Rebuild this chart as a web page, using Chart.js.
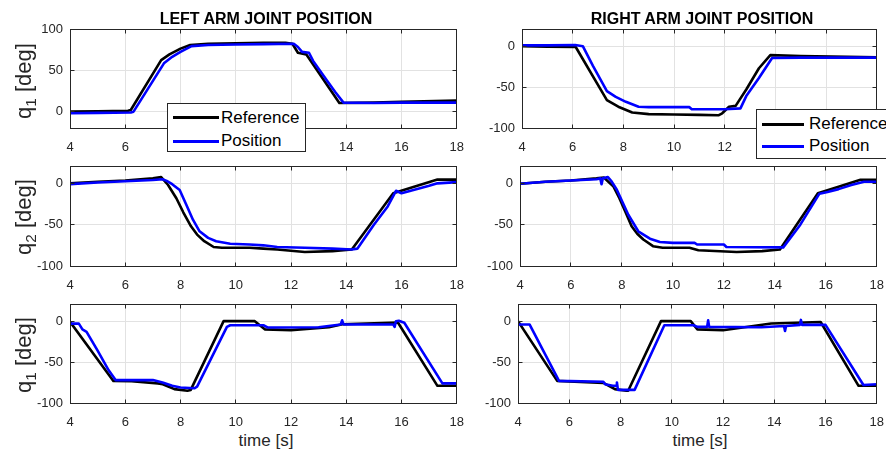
<!DOCTYPE html>
<html>
<head>
<meta charset="utf-8">
<script src="https://cdn.jsdelivr.net/npm/chart.js@4.4.1/dist/chart.umd.min.js"></script>
<style>
html,body{margin:0;padding:0;background:#fff;}
body{width:886px;height:450px;overflow:hidden;position:relative;font-family:"Liberation Sans",Arial,Helvetica,sans-serif;color:#262626;}
.panel{position:absolute;}
.panel canvas{display:block;}
.title{position:absolute;font-weight:bold;font-size:16px;color:#000;white-space:nowrap;transform:translate(-50%,-50%);z-index:5;}
.ylab{position:absolute;font-size:22px;white-space:nowrap;transform:translate(-50%,-50%) rotate(-90deg);z-index:5;line-height:1;}
.ylab sub{font-size:0.7em;vertical-align:-0.3em;line-height:0;}
.xlab{position:absolute;font-size:17px;white-space:nowrap;transform:translate(-50%,-50%);z-index:5;}
.legend{position:absolute;background:#fff;border:1px solid #262626;box-sizing:border-box;z-index:10;}
.legend .swatch{position:absolute;height:3px;}
.legend .txt{position:absolute;font-size:17px;white-space:nowrap;color:#000;transform:translateY(-50%);}
</style>
</head>
<body>
<div class="title" style="left:266px;top:19px;">LEFT ARM JOINT POSITION</div>
<div class="title" style="left:702px;top:19px;">RIGHT ARM JOINT POSITION</div>
<div class="ylab" style="left:24px;top:81px;">q<sub>1</sub> [deg]</div>
<div class="ylab" style="left:24px;top:217px;">q<sub>2</sub> [deg]</div>
<div class="ylab" style="left:24px;top:355px;">q<sub>1</sub> [deg]</div>
<div class="xlab" style="left:266px;top:441px;">time [s]</div>
<div class="xlab" style="left:700px;top:441px;">time [s]</div>

<div class="legend" id="legL" style="left:167px;top:103px;width:139px;height:49px;"></div>
<div class="legend" id="legR" style="left:756px;top:109px;width:139px;height:50px;"></div>

<script>
// ---------- shared tick labels ----------
const xTicks = [4, 6, 8, 10, 12, 14, 16, 18];
const yTicksTopLeft = [0, 50, 100];
const yTicksStd = [-100, -50, 0];
const seriesNames = ['Reference', 'Position'];

// ---------- LEFT ARM q1 ----------
const lq1RefT = [4, 5, 6.1, 6.2, 7.3, 7.6, 8.0, 8.35, 9, 10, 11, 11.8, 12.05, 12.25, 12.55, 13.75, 15, 16, 18];
const lq1RefV = [0, 0.5, 1, 2, 63, 70, 77, 81.5, 83, 83.5, 84, 84, 83, 72, 70, 10.5, 11, 12, 13.5];
const lq1PosT = [4, 5, 6.2, 6.3, 7.4, 7.7, 8.0, 8.4, 9, 10, 11, 12.1, 12.25, 12.4, 12.65, 12.8, 13.3, 13.6, 13.9, 15, 16, 18];
const lq1PosV = [-2, -1.5, -1, 0, 59, 67, 73, 80, 81.5, 82, 82.5, 83, 79, 73, 72, 62, 38, 24, 11, 10.5, 11, 11];

// ---------- RIGHT ARM q1 ----------
const rq1RefT = [4, 5, 6.12, 7.35, 7.8, 8.35, 9, 10, 11, 11.75, 11.9, 12.17, 12.43, 12.85, 13.35, 13.8, 15, 18];
const rq1RefV = [0, -0.5, -1, -66, -74, -81, -83, -83.5, -84, -84.5, -82, -74, -73, -53, -27, -11, -12, -13.5];
const rq1PosT = [4, 5, 6.1, 6.4, 6.8, 7.35, 7.7, 8.1, 8.6, 9, 10, 10.6, 10.7, 12, 12.62, 12.85, 13.35, 13.87, 15, 18];
const rq1PosV = [1, 1, 1.5, 0, -24, -55, -62, -68, -74, -74.5, -74.5, -74.5, -77, -77, -76, -61, -39, -14.5, -14, -14];

// ---------- LEFT ARM q2 ----------
const lq2RefT = [4, 5, 6, 7, 7.3, 7.55, 7.85, 8.1, 8.38, 8.6, 8.86, 9.2, 9.5, 10.5, 11, 11.5, 12.5, 13.5, 14.2, 15.7, 17.3, 18];
const lq2RefV = [0, 2, 3.5, 6, 7.5, -2, -18, -35, -52, -62, -70, -77, -78, -78, -79, -80, -83, -82, -80, -12, 4.5, 4.5];
const lq2PosT = [4, 5, 6, 7, 7.35, 7.5, 7.7, 7.97, 8.21, 8.45, 8.69, 9.0, 9.29, 9.8, 10.5, 11, 11.5, 12.5, 13.5, 14.2, 14.4, 15.0, 15.5, 15.8, 16.0, 17.0, 17.3, 18];
const lq2PosV = [-1, 1, 2.5, 4, 5, 3, -1, -8, -26, -44, -58, -66, -70, -73, -74, -75, -77, -78, -79, -80, -79, -50, -28, -9, -12, -3, 0, 1.5];

// ---------- RIGHT ARM q2 ----------
const rq2RefT = [4, 5, 6, 7, 7.29, 7.67, 7.9, 8.13, 8.38, 8.6, 8.84, 9.22, 9.6, 10.65, 11, 12.5, 13.5, 14.2, 15.69, 16.5, 17.36, 18];
const rq2RefV = [-0.5, 2, 3.5, 6, 7, -4, -18, -34, -52, -61, -68, -76, -78, -78, -81, -83, -82, -80, -12, -4, 4.3, 4.3];
const rq2PosT = [4, 5, 6, 7, 7.15, 7.2, 7.25, 7.45, 7.6, 7.8, 8.25, 8.64, 9.1, 9.49, 10.0, 10.85, 10.95, 12.0, 12.1, 14.33, 15.0, 15.75, 16.07, 16.5, 17.0, 17.5, 18];
const rq2PosV = [-0.5, 2, 3.5, 5, 6, -1, 6, 7.5, 2, -7.7, -38, -58, -67, -71, -72, -72, -74, -74, -77, -77.5, -50, -12.5, -10.5, -7, -2, 2, 2];

// ---------- LEFT ARM q1 (bottom) ----------
const lq3RefT = [4, 5.57, 6.23, 7.18, 7.36, 7.78, 8.25, 8.37, 9.56, 10.69, 11.05, 12, 13.37, 13.86, 15.87, 17.3, 18];
const lq3RefV = [-0.8, -73, -73.5, -76, -77, -83, -85, -84, 0, 0, -10, -11, -7.5, -3.7, -1.6, -79, -79];
const lq3PosT = [4, 4.32, 4.45, 4.6, 5.0, 5.4, 5.65, 7.0, 7.35, 7.7, 8.0, 8.5, 8.6, 9.68, 9.8, 11.0, 11.15, 13.0, 13.8, 13.85, 13.9, 14.1, 15.7, 15.75, 15.8, 15.9, 16.1, 17.48, 18];
const lq3PosV = [-3, -3, -10, -13, -36, -60, -72, -72, -75, -79, -81, -82, -80, -7, -5, -5, -7.7, -7.5, -4, 1, -4, -4, -4, -7, 0, 0.5, -2, -76, -76];

// ---------- RIGHT ARM q1 (bottom) ----------
const rq3RefT = [4, 5.53, 7.33, 7.78, 8.23, 8.3, 9.58, 10.74, 11.0, 12, 13.88, 15.81, 17.29, 18];
const rq3RefV = [0, -73, -75.5, -83, -85, -85, 0, 0, -10, -11, -2.8, -1, -79, -79];
const rq3PosT = [4, 4.45, 5.6, 7.33, 7.4, 7.7, 7.85, 7.86, 7.9, 8.55, 9.71, 10.85, 11.0, 11.38, 11.42, 11.46, 13.5, 14.38, 14.42, 14.46, 15.0, 15.04, 15.08, 16.0, 17.48, 18];
const rq3PosV = [-4, -4, -73, -74, -77, -79, -79, -75, -84, -84, -5, -5, -7, -7, 1, -7, -7.5, -6, -12, -6, -4.5, 1.5, -4.5, -4.5, -78, -77];

// ---------- styling / layout ----------
const FONT = '"Liberation Sans", Arial, Helvetica, sans-serif';
const AX = '#262626';
const GRID = '#e2e2e2';
const REF_COLOR = '#000000';
const POS_COLOR = '#0000ff';
const PADL = 66, PADT = 14, PADR = 14, PADB = 40;

const panels = [
  { rect: [70, 29, 462, 128], y: [-20, 100], yt: yTicksTopLeft, ref: [lq1RefT, lq1RefV], pos: [lq1PosT, lq1PosV] },
  { rect: [522, 29, 882, 128], y: [-100, 20], yt: yTicksStd, ref: [rq1RefT, rq1RefV], pos: [rq1PosT, rq1PosV] },
  { rect: [70, 166, 462, 266], y: [-100, 20], yt: yTicksStd, ref: [lq2RefT, lq2RefV], pos: [lq2PosT, lq2PosV] },
  { rect: [520, 166, 882, 266], y: [-100, 20], yt: yTicksStd, ref: [rq2RefT, rq2RefV], pos: [rq2PosT, rq2PosV] },
  { rect: [70, 304, 462, 403], y: [-100, 20], yt: yTicksStd, ref: [lq3RefT, lq3RefV], pos: [lq3PosT, lq3PosV] },
  { rect: [518, 304, 882, 403], y: [-100, 20], yt: yTicksStd, ref: [rq3RefT, rq3RefV], pos: [rq3PosT, rq3PosV] }
];

function toXY(pair) { return pair[0].map((t, i) => ({ x: t, y: pair[1][i] })); }
function al(p) { return Math.round(p - 0.5) + 0.5; }

const boxPlugin = {
  id: 'matlabBox',
  afterDraw(chart) {
    const { ctx, chartArea } = chart;
    const l = al(chartArea.left), r = al(chartArea.right), t = al(chartArea.top), b = al(chartArea.bottom);
    ctx.save();
    ctx.strokeStyle = AX;
    ctx.lineWidth = 1;
    ctx.strokeRect(l, t, r - l, b - t);
    const TL = 4;
    ctx.beginPath();
    chart.scales.x.ticks.forEach(tk => {
      const px = al(chart.scales.x.getPixelForValue(tk.value));
      ctx.moveTo(px, b); ctx.lineTo(px, b - TL);
      ctx.moveTo(px, t); ctx.lineTo(px, t + TL);
    });
    chart.scales.y.ticks.forEach(tk => {
      const py = al(chart.scales.y.getPixelForValue(tk.value));
      ctx.moveTo(l, py); ctx.lineTo(l + TL, py);
      ctx.moveTo(r, py); ctx.lineTo(r - TL, py);
    });
    ctx.stroke();
    ctx.restore();
  }
};

panels.forEach((p, idx) => {
  const [x0, y0, x1, y1] = p.rect;
  const div = document.createElement('div');
  div.className = 'panel';
  const w = (x1 - x0) + PADL + PADR, h = (y1 - y0) + PADT + PADB;
  div.style.left = (x0 - PADL) + 'px';
  div.style.top = (y0 - PADT) + 'px';
  div.style.width = w + 'px';
  div.style.height = h + 'px';
  div.style.zIndex = 1 + idx;
  const cv = document.createElement('canvas');
  cv.width = w; cv.height = h;
  cv.style.width = w + 'px'; cv.style.height = h + 'px';
  div.appendChild(cv);
  document.body.appendChild(div);

  const lineStyle = { borderWidth: 2.6, pointRadius: 0, tension: 0, fill: false, clip: 0, borderJoinStyle: 'round', borderCapStyle: 'round' };
  new Chart(cv.getContext('2d'), {
    type: 'line',
    data: {
      datasets: [
        Object.assign({ label: seriesNames[1], data: toXY(p.pos), borderColor: POS_COLOR, order: 0 }, lineStyle),
        Object.assign({ label: seriesNames[0], data: toXY(p.ref), borderColor: REF_COLOR, order: 1 }, lineStyle)
      ]
    },
    options: {
      responsive: false,
      maintainAspectRatio: false,
      animation: false,
      events: [],
      layout: { padding: { left: 0, top: PADT, right: PADR, bottom: 0 } },
      plugins: { legend: { display: false }, tooltip: { enabled: false }, title: { display: false } },
      scales: {
        x: {
          type: 'linear', min: 4, max: 18,
          afterBuildTicks: s => { s.ticks = xTicks.map(v => ({ value: v })); },
          afterFit: s => { s.height = PADB; },
          grid: { color: GRID, lineWidth: 1, drawTicks: false },
          border: { display: false },
          ticks: { color: AX, font: { family: FONT, size: 13 }, padding: 12, maxRotation: 0, autoSkip: false }
        },
        y: {
          type: 'linear', min: p.y[0], max: p.y[1],
          afterBuildTicks: s => { s.ticks = p.yt.map(v => ({ value: v })); },
          afterFit: s => { s.width = PADL; },
          grid: { color: GRID, lineWidth: 1, drawTicks: false },
          border: { display: false },
          ticks: { color: AX, font: { family: FONT, size: 13 }, padding: 7, autoSkip: false }
        }
      }
    },
    plugins: [boxPlugin]
  });
});

// ---------- legends (HTML) ----------
function buildLegend(id, lineX0, lineX1, textX, rowYs) {
  const el = document.getElementById(id);
  const colors = [REF_COLOR, POS_COLOR];
  seriesNames.forEach((name, i) => {
    const sw = document.createElement('div');
    sw.className = 'swatch';
    sw.style.left = lineX0 + 'px';
    sw.style.width = (lineX1 - lineX0) + 'px';
    sw.style.top = (rowYs[i] - 1.5) + 'px';
    sw.style.background = colors[i];
    el.appendChild(sw);
    const tx = document.createElement('div');
    tx.className = 'txt';
    tx.style.left = textX + 'px';
    tx.style.top = rowYs[i] + 'px';
    tx.textContent = name;
    el.appendChild(tx);
  });
}
buildLegend('legL', 5, 51, 53, [13.5, 37]);
buildLegend('legR', 5, 47, 52, [14, 36]);
</script>
</body>
</html>
